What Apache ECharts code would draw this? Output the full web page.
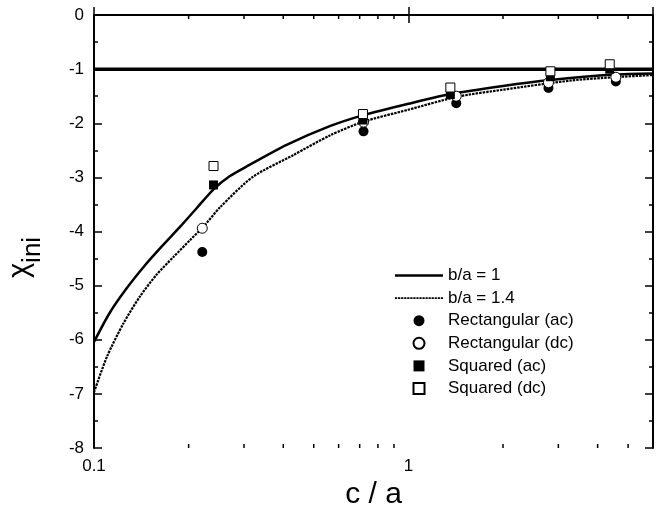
<!DOCTYPE html>
<html>
<head>
<meta charset="utf-8">
<script src="https://cdn.jsdelivr.net/npm/echarts@6/dist/echarts.min.js"></script>
<style>
  html, body { margin: 0; padding: 0; background: #fff; }
  #chart { width: 660px; height: 514px; }
</style>
</head>
<body>
<div id="chart"></div>
<script>
// curves (c/a on log axis)
var xBa1 = [0.1, 0.112, 0.127, 0.144, 0.164, 0.188, 0.212, 0.24, 0.27, 0.31, 0.41, 0.565, 0.72, 1.0, 1.36, 2.0, 2.83, 4.5, 6.0];
var ba1  = [-6.04, -5.51, -5.05, -4.65, -4.28, -3.91, -3.57, -3.22, -2.98, -2.78, -2.40, -2.05, -1.85, -1.64, -1.46, -1.31, -1.20, -1.10, -1.08];
var xBa14 = [0.1, 0.11, 0.124, 0.14, 0.158, 0.179, 0.202, 0.223, 0.252, 0.32, 0.43, 0.565, 0.72, 1.0, 1.43, 2.0, 3.3, 4.5, 6.0];
var ba14  = [-6.97, -6.31, -5.70, -5.20, -4.80, -4.47, -4.16, -3.91, -3.55, -2.99, -2.59, -2.22, -1.97, -1.75, -1.51, -1.38, -1.21, -1.15, -1.11];

// measured points
var xRect = [0.221, 0.72, 1.42, 2.79, 4.57];
var rectAc = [-4.38, -2.15, -1.63, -1.35, -1.23];
var rectDc = [-3.94, -1.98, -1.50, -1.25, -1.15];
var xSq = [0.24, 0.717, 1.36, 2.83, 4.37];
var sqAc = [-3.14, -1.94, -1.47, -1.14, -1.0];
var sqDc = [-2.79, -1.83, -1.34, -1.04, -0.91];

var xLimit = [0.1, 6];
var limitLine = [-1, -1];

var xMinorTicks = [0.2, 0.3, 0.4, 0.5, 0.6, 0.7, 0.8, 0.9, 2, 3, 4, 5];

function pairs(xs, ys) {
  return xs.map(function (x, i) { return [x, ys[i]]; });
}

// legend line samples
var solidIcon = 'path://M0,0H48V2.6H0Z';
var dotIcon = 'path://';
for (var d = 0; d < 47; d += 3) { dotIcon += 'M' + d + ',0h2.2v1.6h-2.2z'; }

var font = 'Liberation Sans';
var chart = echarts.init(document.getElementById('chart'));

var xBase = {
  type: 'log',
  logBase: 10,
  min: 0.1,
  max: 6,
  axisLine: { lineStyle: { color: '#000', width: 2 } },
  axisTick: { inside: true, length: 8, lineStyle: { color: '#000', width: 1.5 } },
  splitLine: { show: false }
};
var yBase = {
  type: 'value',
  min: -8,
  max: 0,
  interval: 1,
  axisLine: { show: true, lineStyle: { color: '#000', width: 2 } },
  axisTick: { show: true, inside: true, length: 8, lineStyle: { color: '#000', width: 1.5 } },
  minorTick: { show: true, splitNumber: 2, length: 4, lineStyle: { color: '#000', width: 1.5 } },
  splitLine: { show: false }
};

var option = {
  backgroundColor: '#fff',
  animation: false,
  grid: { left: 94, top: 15, right: 7, bottom: 66, outerBoundsMode: 'none' },
  xAxis: [
    Object.assign({}, xBase, {
      position: 'bottom',
      name: 'c / a',
      nameLocation: 'middle',
      nameGap: 31,
      nameTextStyle: { fontFamily: font, fontSize: 30, color: '#000' },
      axisLabel: {
        fontFamily: font, fontSize: 17, color: '#000', margin: 10,
        formatter: function (v) {
          var e = Math.log10(v);
          return Math.abs(e - Math.round(e)) < 1e-6 ? String(v) : '';
        }
      }
    }),
    Object.assign({}, xBase, { position: 'top', axisLabel: { show: false } })
  ],
  yAxis: [
    Object.assign({}, yBase, {
      position: 'left',
      name: '{chi|χ}{sub|ini}',
      nameLocation: 'middle',
      nameRotate: 90,
      nameGap: 48,
      nameTextStyle: {
        color: '#000',
        rich: {
          chi: { fontFamily: font, fontSize: 29, color: '#000', verticalAlign: 'bottom', padding: [0, 0, 12, 0] },
          sub: { fontFamily: font, fontSize: 26, color: '#000', verticalAlign: 'bottom', padding: [0, 52, 0, 0] }
        }
      },
      axisLabel: { fontFamily: font, fontSize: 17, color: '#000', margin: 10 }
    }),
    Object.assign({}, yBase, { position: 'right', axisLabel: { show: false } })
  ],
  legend: {
    orient: 'vertical',
    left: 390,
    top: 262,
    itemWidth: 48,
    itemHeight: 11,
    itemGap: 5.6,
    textStyle: { fontFamily: font, fontSize: 17, color: '#000' },
    data: [
      { name: 'b/a = 1', icon: solidIcon },
      { name: 'b/a = 1.4', icon: dotIcon },
      { name: 'Rectangular (ac)', icon: 'circle' },
      { name: 'Rectangular (dc)', icon: 'circle' },
      { name: 'Squared (ac)', icon: 'path://M0,0h10v10h-10z' },
      { name: 'Squared (dc)', icon: 'path://M0,0h10v10h-10z' }
    ]
  },
  series: [
    {
      name: 'limit',
      type: 'line',
      data: pairs(xLimit, limitLine),
      symbol: 'none',
      lineStyle: { color: '#000', width: 3.5 },
      silent: true
    },
    {
      name: 'b/a = 1',
      type: 'line',
      data: pairs(xBa1, ba1),
      symbol: 'none',
      smooth: 0.25,
      itemStyle: { color: '#000' },
      lineStyle: { color: '#000', width: 2.5, type: 'solid' }
    },
    {
      name: 'b/a = 1.4',
      type: 'line',
      data: pairs(xBa14, ba14),
      symbol: 'none',
      smooth: 0.25,
      itemStyle: { color: '#000' },
      lineStyle: { color: '#000', width: 2.2, type: [2.5, 1] }
    },
    {
      name: 'Rectangular (ac)',
      type: 'scatter',
      data: pairs(xRect, rectAc),
      symbol: 'circle',
      symbolSize: 10,
      itemStyle: { color: '#000', opacity: 1 },
      z: 5
    },
    {
      name: 'Rectangular (dc)',
      type: 'scatter',
      data: pairs(xRect, rectDc),
      symbol: 'circle',
      symbolSize: 10,
      itemStyle: { color: '#fff', borderColor: '#000', borderWidth: 1, opacity: 1 },
      z: 5
    },
    {
      name: 'Squared (ac)',
      type: 'scatter',
      data: pairs(xSq, sqAc),
      symbol: 'rect',
      symbolSize: 9,
      itemStyle: { color: '#000', opacity: 1 },
      z: 5
    },
    {
      name: 'Squared (dc)',
      type: 'scatter',
      data: pairs(xSq, sqDc),
      symbol: 'rect',
      symbolSize: 9,
      itemStyle: { color: '#fff', borderColor: '#000', borderWidth: 1, opacity: 1 },
      z: 5
    },
    {
      // log-spaced minor ticks on bottom and top x axes
      name: 'minorTicks',
      type: 'custom',
      silent: true,
      clip: false,
      data: xMinorTicks.map(function (x) { return [x]; }),
      renderItem: function (params, api) {
        var x = api.value(0);
        var b = api.coord([x, -8]);
        var t = api.coord([x, 0]);
        var st = { stroke: '#000', lineWidth: 1.5 };
        return {
          type: 'group',
          children: [
            { type: 'line', shape: { x1: b[0], y1: b[1], x2: b[0], y2: b[1] - 4 }, style: st },
            { type: 'line', shape: { x1: t[0], y1: t[1], x2: t[0], y2: t[1] + 4 }, style: st }
          ]
        };
      },
      encode: { x: 0 },
      z: 10
    }
  ]
};

chart.setOption(option);
window.addEventListener('resize', function () { chart.resize(); });
</script>
</body>
</html>
